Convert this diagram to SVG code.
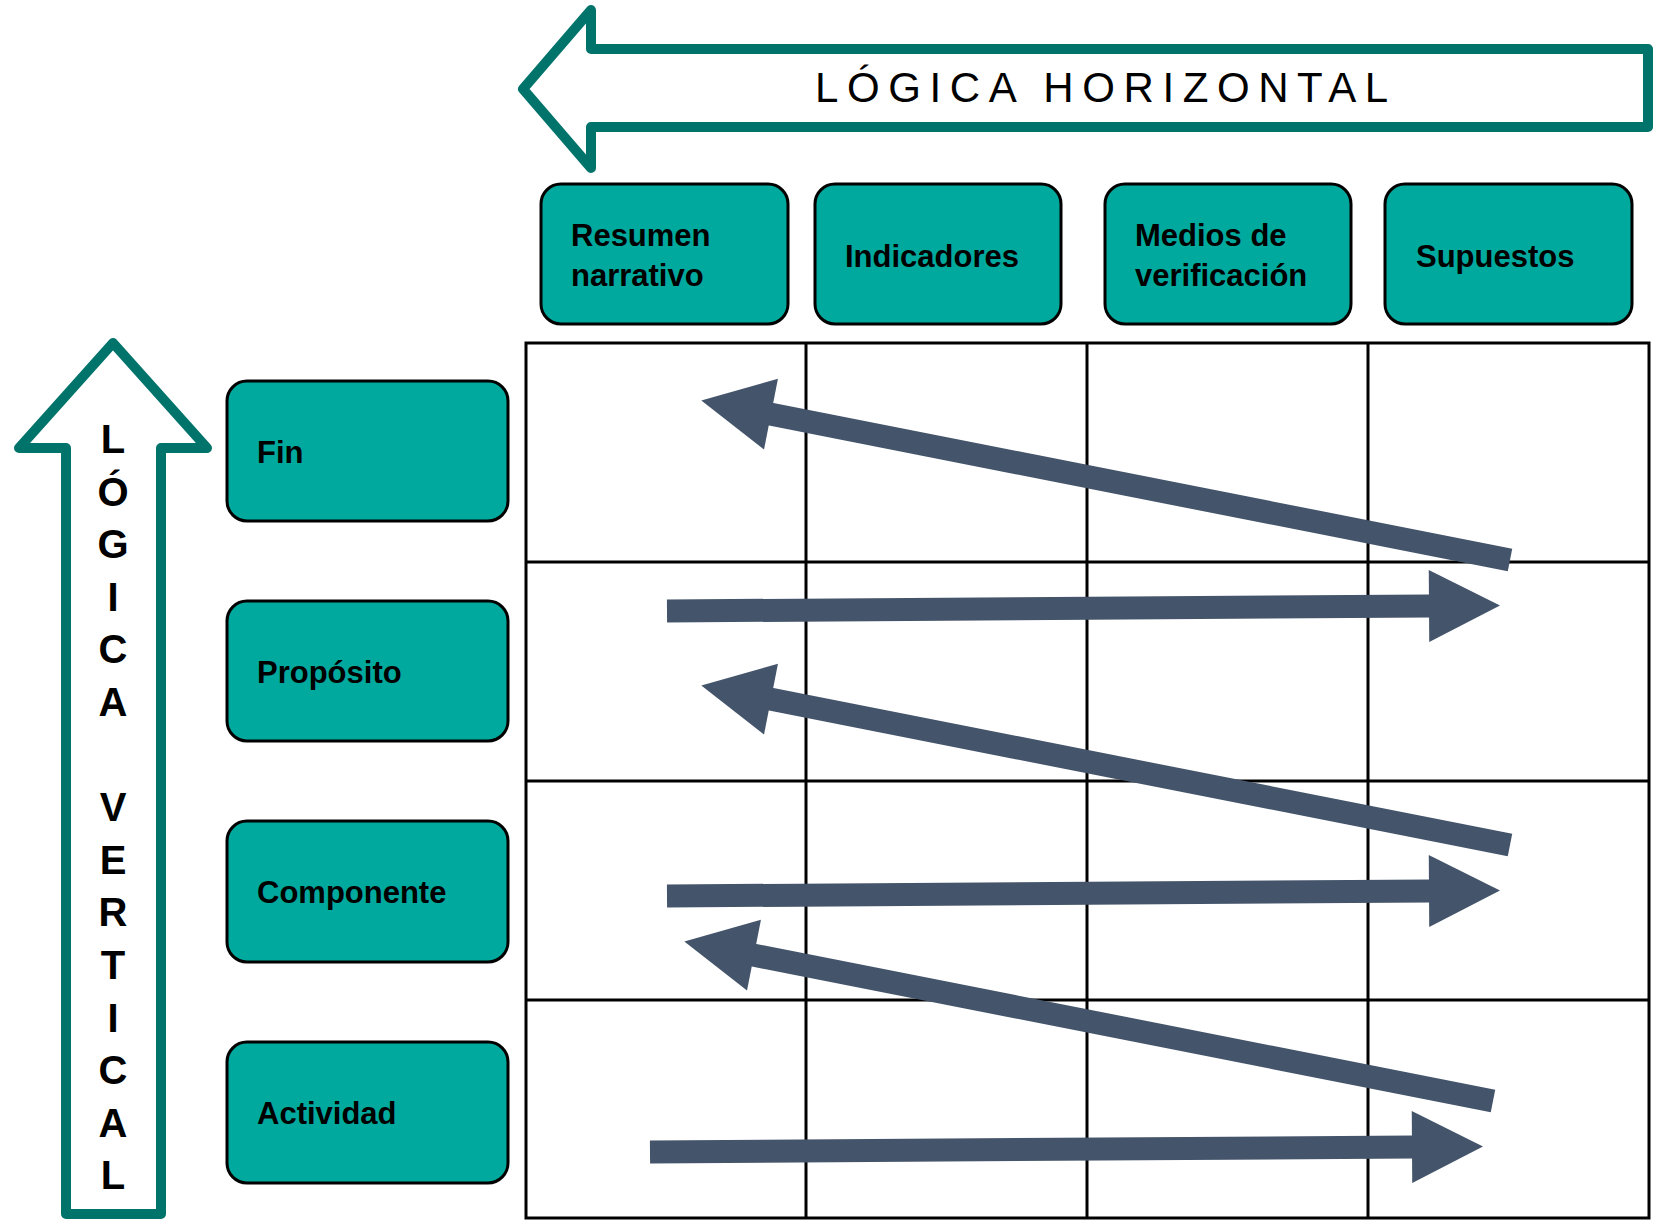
<svg xmlns="http://www.w3.org/2000/svg" width="1655" height="1221" viewBox="0 0 1655 1221">
<style>
.bigarrow{fill:none;stroke:#00736B;stroke-width:10;stroke-linejoin:round}
.box{fill:#00A99D;stroke:#000;stroke-width:3}
.lbl{font-family:"Liberation Sans",Arial,sans-serif;font-weight:bold;font-size:31px;fill:#000}
.grid{stroke:#000;stroke-width:3;fill:none}
.flow{stroke:#44546A;stroke-width:23;fill:none;marker-end:url(#ah)}
.vt{font-family:"Liberation Sans",Arial,sans-serif;font-weight:bold;font-size:40px;fill:#000;text-anchor:middle}
.ht{font-family:"Liberation Sans",Arial,sans-serif;font-size:42px;letter-spacing:8.6px;fill:#000}
</style>
<defs>
<marker id="ah" markerUnits="userSpaceOnUse" markerWidth="72" markerHeight="74" refX="1" refY="37" orient="auto" overflow="visible">
<path d="M0,1 L71,37 L0,73 z" fill="#44546A"/>
</marker>
</defs>
<rect width="1655" height="1221" fill="#fff"/>

<g id="logica-horizontal">
<polygon class="bigarrow" points="523,89 591,10 591,49 1648,49 1648,127 591,127 591,168"/>
<text class="ht" x="815" y="102">LÓGICA HORIZONTAL</text>
</g>

<g id="logica-vertical">
<polygon class="bigarrow" points="113,343 207,448 161,448 161,1214 66,1214 66,448 19,448"/>
<text class="vt" x="113" y="453">L</text>
<text class="vt" x="113" y="506">Ó</text>
<text class="vt" x="113" y="558">G</text>
<text class="vt" x="113" y="611">I</text>
<text class="vt" x="113" y="663">C</text>
<text class="vt" x="113" y="716">A</text>
<text class="vt" x="113" y="821">V</text>
<text class="vt" x="113" y="874">E</text>
<text class="vt" x="113" y="926">R</text>
<text class="vt" x="113" y="979">T</text>
<text class="vt" x="113" y="1032">I</text>
<text class="vt" x="113" y="1084">C</text>
<text class="vt" x="113" y="1137">A</text>
<text class="vt" x="113" y="1189">L</text>
</g>

<g id="h-resumen"><rect class="box" x="541" y="184" width="247" height="140" rx="20"/><text class="lbl" x="571" y="246">Resumen</text><text class="lbl" x="571" y="286">narrativo</text></g>
<g id="h-indicadores"><rect class="box" x="815" y="184" width="246" height="140" rx="20"/><text class="lbl" x="845" y="267">Indicadores</text></g>
<g id="h-medios"><rect class="box" x="1105" y="184" width="246" height="140" rx="20"/><text class="lbl" x="1135" y="246">Medios de</text><text class="lbl" x="1135" y="286">verificación</text></g>
<g id="h-supuestos"><rect class="box" x="1385" y="184" width="247" height="140" rx="20"/><text class="lbl" x="1416" y="267">Supuestos</text></g>

<g id="r-fin"><rect class="box" x="227" y="381" width="281" height="140" rx="20"/><text class="lbl" x="257" y="463">Fin</text></g>
<g id="r-proposito"><rect class="box" x="227" y="601" width="281" height="140" rx="20"/><text class="lbl" x="257" y="683">Propósito</text></g>
<g id="r-componente"><rect class="box" x="227" y="821" width="281" height="141" rx="20"/><text class="lbl" x="257" y="903">Componente</text></g>
<g id="r-actividad"><rect class="box" x="227" y="1042" width="281" height="141" rx="20"/><text class="lbl" x="257" y="1124">Actividad</text></g>

<g id="matrix">
<rect class="grid" x="526" y="343" width="1123" height="875"/>
<path class="grid" d="M806,343V1218M1087,343V1218M1368,343V1218M526,562H1649M526,781H1649M526,1000H1649"/>
</g>

<g id="connectors">
<line class="flow" x1="1510" y1="560" x2="770" y2="414"/>
<line class="flow" x1="667" y1="611" x2="1430" y2="606"/>
<line class="flow" x1="1510" y1="845" x2="770" y2="699"/>
<line class="flow" x1="667" y1="896" x2="1430" y2="891"/>
<line class="flow" x1="1493" y1="1101" x2="753" y2="955"/>
<line class="flow" x1="650" y1="1152" x2="1413" y2="1147"/>
</g>
</svg>
